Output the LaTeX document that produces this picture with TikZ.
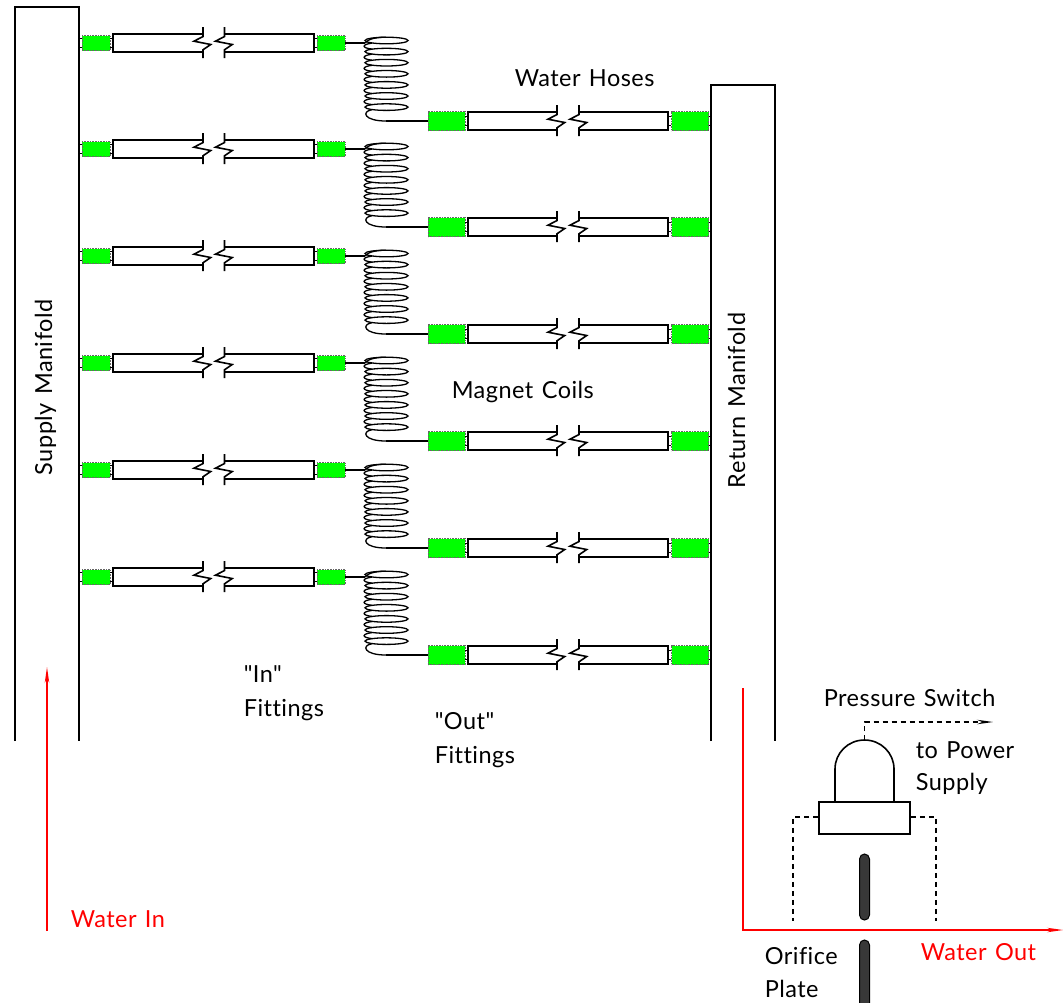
\documentclass[tikz,border=0pt]{standalone}
\usepackage{fontspec}
\newfontfamily\labfont[LetterSpace=2,WordSpace=1.3,Ligatures={NoCommon}]{Lato}
\usetikzlibrary{arrows.meta}
\begin{document}
\begin{tikzpicture}
[x=1pt,y=-1pt,line width=1.6pt,>={Stealth[length=16pt,width=4.5pt]},
fitsmall/.style = {draw=black!60,densely dotted,line width=0.6pt,fill = green,inner sep = 0pt,minimum width = 28pt,minimum height = 15pt},
fitbig/.style = {draw=black!60,densely dotted,line width=0.6pt,fill = green,inner sep = 0pt,minimum width = 37pt,minimum height = 19pt},
lab/.style = {anchor = base west,inner sep = 0pt,font = \labfont\fontsize{23.5}{25}\selectfont},
redlab/.style = {lab,text = red},
flow/.style = {red,line width=1.4pt},
wire/.style = {line width=1.3pt,dash pattern=on 5pt off 4pt},
plate/.style = {draw,fill = black!78,line width=1pt},]
\useasboundingbox (0,0) rectangle (1064,1002);
% manifolds
\draw (15,741)--(15,7)--(79,7)--(79,741);
\draw (711,741)--(711,85)--(775,85)--(775,741);
\node (SM) at (52,476)[lab,rotate=90] {Supply Manifold};
\node (RM) at (745,489)[lab,rotate=90] {Return Manifold};
% supply side
\foreach \i/\y in {1/43,2/149,3/256,4/363,5/470,6/577}
{
\node (FA\i) at (96,\y)[fitsmall] {};
\node (FB\i) at (331,\y)[fitsmall] {};
\coordinate (CI\i) at (365,\y);
\draw (79,\y-4.5)--(FA\i.west |- 0,\y-4.5);
\draw (79,\y+4.5)--(FA\i.west |- 0,\y+4.5);
\draw (FA\i.east |- 0,\y-4.5)--(113,\y-4.5);
\draw (FA\i.east |- 0,\y+4.5)--(113,\y+4.5);
\draw (FB\i.west |- 0,\y-4.5)--(314,\y-4.5);
\draw (FB\i.west |- 0,\y+4.5)--(314,\y+4.5);
\draw (203,\y-9)--(113,\y-9)--(113,\y+9)--(203,\y+9);
\draw (224.5,\y-9)--(314,\y-9)--(314,\y+9)--(224.5,\y+9);
\draw (203,\y-16)--(203,\y-6.5)--(194,\y-1.8)--(210.7,\y+1.5)--(203,\y+6.8)--(203,\y+15);
\draw (224.5,\y-16)--(224.5,\y-6.5)--(215.5,\y-1.8)--(232.2,\y+1.5)--(224.5,\y+6.8)--(224.5,\y+15);
\draw (FB\i)--(CI\i);
% coil
\draw[line width=1.3pt] (CI\i)..controls (368,\y-4) and (376,\y-5.8)..(386,\y-5.8);
\foreach \k in {0,...,6}
{
\pgfmathsetmacro\c{\y-2.5+11.1*\k}
\draw[line width=1.3pt] (386.5,\c) ellipse [x radius=21.5,y radius=3.3];
\ifnum\k<6
\draw[line width=1.3pt] (372,\c+2.6)..controls (361.5,\c+4) and (361.5,\c+7.4)..(372,\c+8.6);
\fi
}
\node (FC\i) at (446.5,\y+78)[fitbig] {};
\node (FD\i) at (690,\y+78)[fitbig] {};
\coordinate (CO\i) at (386,\y+78);
\draw[line width=1.3pt] (372,\y+66.7)..controls (361,\y+68.5) and (364,\y+78)..(CO\i);
\draw (CO\i)--(FC\i);
% hoses on return side
\draw (FC\i.east |- 0,\y+73.5)--(468,\y+73.5);
\draw (FC\i.east |- 0,\y+82.5)--(468,\y+82.5);
\draw (FD\i.west |- 0,\y+73.5)--(668,\y+73.5);
\draw (FD\i.west |- 0,\y+82.5)--(668,\y+82.5);
\draw (FD\i.east |- 0,\y+73.5)--(711,\y+73.5);
\draw (FD\i.east |- 0,\y+82.5)--(711,\y+82.5);
\draw (557,\y+69)--(468,\y+69)--(468,\y+87)--(557,\y+87);
\draw (579,\y+69)--(668,\y+69)--(668,\y+87)--(579,\y+87);
\draw (557,\y+62)--(557,\y+71.5)--(548,\y+76.2)--(564.7,\y+79.5)--(557,\y+84.8)--(557,\y+93);
\draw (579,\y+62)--(579,\y+71.5)--(570,\y+76.2)--(586.7,\y+79.5)--(579,\y+84.8)--(579,\y+93);
}
% text
\node (WH) at (514,86)[lab] {Water Hoses};
\node (MC) at (451,398)[lab] {Magnet Coils};
\node (FI) at (243,682)[lab] {"In"};
\node (FJ) at (243,716)[lab] {Fittings};
\node (FO) at (434,729)[lab] {"Out"};
\node (FP) at (434,763)[lab] {Fittings};
\node (PS) at (823,706)[lab] {Pressure Switch};
\node (TP) at (915,758)[lab] {to Power};
\node (SU) at (915,790)[lab] {Supply};
\node (OF) at (764,964)[lab] {Orifice};
\node (PL) at (764,997)[lab] {Plate};
\node (WI) at (70,927)[redlab] {Water In};
\node (WO) at (920,960)[redlab] {Water Out};
% water flow
\coordinate (I0) at (47,931);
\coordinate (I1) at (47,667);
\draw[flow,->] (I0)--(I1);
\coordinate (O0) at (743,688);
\coordinate (O1) at (743,930);
\coordinate (O2) at (1063,930);
\draw[flow,->] (O0)--(O1)--(O2);
% pressure switch
\node (SB) at (864.5,818)[draw,inner sep=0pt,minimum width=91pt,minimum height=32pt] {};
\coordinate (DT) at (864.5,740);
\draw (835,802)--(835,769)..controls (835,753) and (848,740)..(DT)..controls (881,740) and (894,753)..(894,769)--(894,802);
\coordinate (W1) at (864.5,722);
\coordinate (W2) at (993,722);
\draw[wire,->] (DT)--(W1)--(W2);
\coordinate (L1) at (793,817);
\coordinate (L2) at (793,921);
\coordinate (R1) at (936,817);
\coordinate (R2) at (936,921);
\draw[wire] (SB.west |- L1)--(L1)--(L2);
\draw[wire] (SB.east |- R1)--(R1)--(R2);
% orifice plate
\draw[plate] (859.5,859)..controls (859.5,856) and (862,854)..(864.5,854)..controls (867,854) and (869.5,856)..(869.5,859)--(869.5,915)..controls (869.5,918) and (867,920)..(864.5,920)..controls (862,920) and (859.5,918)..(859.5,915)--cycle;
\draw[plate] (859.5,1010)--(859.5,945)..controls (859.5,942) and (862,940)..(864.5,940)..controls (867,940) and (869.5,942)..(869.5,945)--(869.5,1010);
\end{tikzpicture}
\end{document}
